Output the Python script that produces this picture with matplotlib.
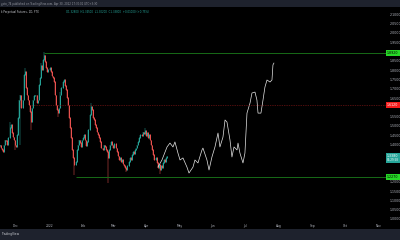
import numpy as np
import matplotlib.pyplot as plt
import matplotlib.transforms as mtransforms
from matplotlib.patches import Rectangle

# daily candles, day 0 = 2021-12-01
first_day = -15
first_open = 1.390
closes = [1.397, 1.381, 1.371, 1.360, 1.397, 1.424, 1.419, 1.397, 1.435, 1.489,
          1.505, 1.462, 1.440, 1.424, 1.397, 1.387, 1.451, 1.543, 1.639, 1.666,
          1.596, 1.639, 1.774, 1.790, 1.704, 1.666, 1.639, 1.612, 1.575, 1.521,
          1.596, 1.639, 1.661, 1.666, 1.623, 1.639, 1.720, 1.758, 1.822, 1.801,
          1.855, 1.881, 1.844, 1.812, 1.790, 1.801, 1.812, 1.790, 1.768, 1.758,
          1.736, 1.666, 1.612, 1.586, 1.570, 1.596, 1.666, 1.704, 1.736, 1.747,
          1.715, 1.693, 1.650, 1.612, 1.543, 1.489, 1.435, 1.371, 1.328, 1.290,
          1.306, 1.371, 1.397, 1.424, 1.408, 1.387, 1.424, 1.435, 1.451, 1.424,
          1.392, 1.414, 1.478, 1.559, 1.602, 1.586, 1.543, 1.532, 1.505, 1.489,
          1.467, 1.451, 1.435, 1.414, 1.381, 1.371, 1.397, 1.387, 1.371, 1.360,
          1.328, 1.371, 1.397, 1.414, 1.397, 1.381, 1.403, 1.381, 1.360, 1.338,
          1.317, 1.328, 1.306, 1.317, 1.295, 1.285, 1.274, 1.263, 1.285, 1.306,
          1.328, 1.317, 1.344, 1.360, 1.349, 1.371, 1.381, 1.397, 1.414, 1.435,
          1.451, 1.446, 1.467, 1.456, 1.473, 1.446, 1.462, 1.435, 1.451, 1.424,
          1.397, 1.371, 1.344, 1.317, 1.328, 1.301, 1.274, 1.290, 1.263, 1.285,
          1.274, 1.301, 1.317, 1.306, 1.328, 1.338]
wick_high = {-6: 1.52, 8: 1.81, 23: 1.84, 26: 1.895, 41: 1.68, 69: 1.625, 119: 1.49}
wick_low = {-1: 1.37, 4: 1.40, 14: 1.478, 39: 1.548, 54: 1.236, 85: 1.193, 102: 1.25, 133: 1.24}

# hand drawn projection path
path_days = [131.2, 134.9, 139.6, 142.3, 145.1, 146.9, 149.7, 151.6, 154.3, 158.0,
             159.9, 163.6, 165.4, 168.2, 171.9, 172.8, 176.5, 178.4, 181.1, 183.9,
             186.7, 188.5, 191.3, 193.2, 195.0, 197.8, 199.6, 201.5, 204.3, 205.2,
             207.0, 209.8, 211.6, 213.5, 216.3, 218.1, 220.9, 222.7, 223.7, 226.4,
             228.3, 230.1, 232.0, 234.8, 236.6, 237.5, 238.4]
path_prices = [1.279, 1.317, 1.387, 1.408, 1.387, 1.414, 1.354, 1.317, 1.328, 1.279,
               1.247, 1.279, 1.317, 1.301, 1.371, 1.381, 1.317, 1.263, 1.333, 1.387,
               1.462, 1.387, 1.440, 1.532, 1.521, 1.424, 1.333, 1.387, 1.371, 1.408,
               1.354, 1.301, 1.354, 1.569, 1.623, 1.677, 1.682, 1.639, 1.569, 1.569,
               1.639, 1.709, 1.747, 1.736, 1.747, 1.828, 1.838]

# horizontal levels (price, start day)
top_level, top_start = 1.892, 26
mid_level, mid_start = 1.612, 13
low_level, low_start = 1.227, 55

month_days = [0, 31, 62, 90, 121, 151, 182, 212, 243, 274, 304, 335]
month_labels = ['Dec', '2022', 'Feb', 'Mar', 'Apr', 'May', 'Jun', 'Jul', 'Aug', 'Sep', 'Oct', 'Nov']

up_col = '#26a69a'
down_col = '#ef5350'
txt_col = '#b2b5be'

fig = plt.figure(figsize=(4, 2.4), dpi=100, facecolor='black')
ax = fig.add_axes([0, 11 / 240, 386 / 400, 221 / 240])
ax.set_facecolor('black')
for s in ax.spines.values():
    s.set_visible(False)
x_end = 342
ax.set_xlim(-14.8, x_end)
ax.set_ylim(0.946, 2.134)

# candles
days = np.arange(first_day, first_day + len(closes))
closes = np.array(closes)
opens = np.r_[first_open, closes[:-1]]
highs = np.maximum(opens, closes)
lows = np.minimum(opens, closes)
for d, v in wick_high.items():
    highs[d - first_day] = v
for d, v in wick_low.items():
    lows[d - first_day] = v
colors = np.where(closes >= opens, up_col, down_col)
ax.vlines(days, lows, highs, colors=colors, lw=0.35)
ax.vlines(days, np.minimum(opens, closes), np.maximum(opens, closes) + 0.003, colors=colors, lw=0.7)

# drawing
ax.plot(path_days, path_prices, color='#e6e6e6', lw=0.5)

# levels
ax.hlines(top_level, top_start, x_end, color='#176b17', lw=0.7)
ax.hlines(low_level, low_start, x_end, color='#176b17', lw=0.7)
ax.hlines(mid_level, mid_start, x_end, color='#a01c1c', lw=0.5, linestyles=(0, (1, 1.5)))

# price axis
yt = np.arange(1.0, 2.101, 0.05)
marks = [top_level, mid_level, low_level, closes[-1], closes[-1] - 0.022]
yt = [v for v in yt if min(abs(v - m) for m in marks) > 0.025]
ax.yaxis.tick_right()
ax.set_yticks(yt)
ax.set_yticklabels(['%.4f' % v for v in yt])
ax.tick_params(axis='y', length=0, pad=2.5, labelsize=2.3, labelcolor=txt_col)
ax.set_xticks([])

tr = mtransforms.blended_transform_factory(ax.transAxes, ax.transData)
def price_tag(y, text, fc, tc, size=2.3):
    ax.text(1.003, y, text, transform=tr, fontsize=size, color=tc, va='center', ha='left',
            clip_on=False, bbox=dict(boxstyle='square,pad=0.35', fc=fc, ec='none'))

price_tag(top_level, '%.4f' % top_level, '#27d827', 'black')
price_tag(mid_level, '%.4f' % mid_level, '#f21c1c', 'white')
price_tag(low_level, '%.4f' % low_level, '#27d827', 'black')
price_tag(closes[-1], '%.4f' % closes[-1], up_col, 'white')
price_tag(closes[-1] - 0.022, '06:29:58', up_col, 'white', size=2.0)

for d, lab in zip(month_days, month_labels):
    ax.text(d, 0.0136, lab, transform=ax.get_xaxis_transform(), fontsize=2.2,
            color=txt_col, ha='center', va='center')

# header / footer bars
fig.add_artist(Rectangle((0, 1 - 7 / 240), 1, 7 / 240, transform=fig.transFigure, fc='#1e222d', ec='none'))
fig.add_artist(Rectangle((0, 0), 1, 11 / 240, transform=fig.transFigure, fc='#1e222d', ec='none'))
fig.text(0.002, 1 - 3.5 / 240, 'ypto_74 published on TradingView.com, Apr 30, 2022 17:30:01 UTC+3:30',
         fontsize=1.9, color='#9598a1', va='center')
fig.text(0.002, 1 - 12.3 / 240, 'k Perpetual Futures, 1D, FTX', fontsize=1.9, color='#c8cad0', va='center')
fig.text(0.165, 1 - 12.3 / 240, 'O1.32800  H1.34500  L1.30200  C1.33800  +0.01000 (+0.75%)',
         fontsize=1.9, color=up_col, va='center')
fig.text(0.002, 5.5 / 240, 'TradingView', fontsize=2.2, color='#c8cad0', va='center')

fig.savefig('out.png', dpi=100, facecolor='black')
